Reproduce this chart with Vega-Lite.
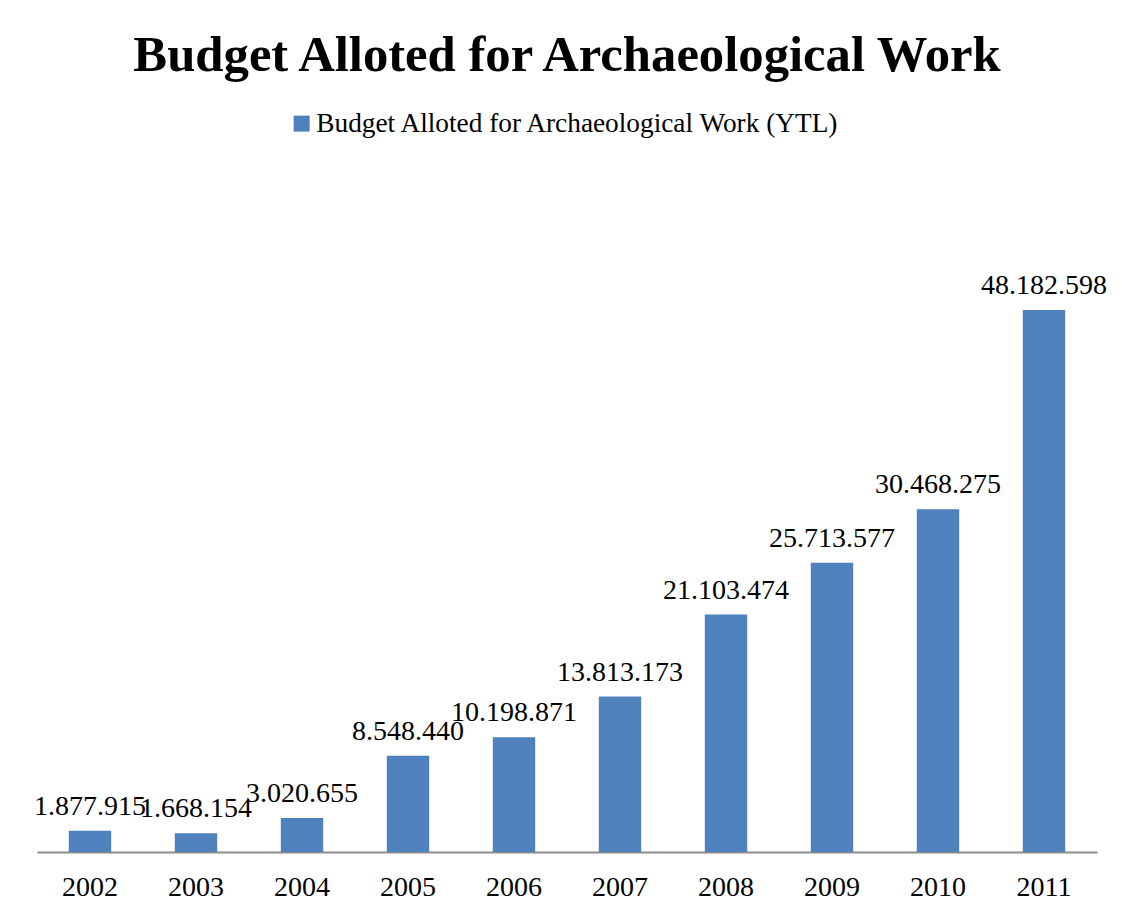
{
  "$schema": "https://vega.github.io/schema/vega-lite/v6.json",
  "width": 1060,
  "height": 675,
  "autosize": "none",
  "padding": {"left": 37, "top": 177, "right": 25, "bottom": 63},
  "background": "white",
  "config": {
    "view": {"stroke": null},
    "locale": {"number": {"decimal": ",", "thousands": ".", "grouping": [3], "currency": ["", ""]}},
    "font": "Liberation Serif"
  },
  "title": {
    "text": "Budget Alloted for Archaeological Work",
    "font": "Liberation Serif",
    "fontSize": 50.7,
    "fontWeight": "bold",
    "color": "black",
    "anchor": "middle",
    "offset": 28
  },
  "data": {
    "values": [
      {"year": "2002", "budget": 1877915, "series": "Budget Alloted for Archaeological Work (YTL)"},
      {"year": "2003", "budget": 1668154, "series": "Budget Alloted for Archaeological Work (YTL)"},
      {"year": "2004", "budget": 3020655, "series": "Budget Alloted for Archaeological Work (YTL)"},
      {"year": "2005", "budget": 8548440, "series": "Budget Alloted for Archaeological Work (YTL)"},
      {"year": "2006", "budget": 10198871, "series": "Budget Alloted for Archaeological Work (YTL)"},
      {"year": "2007", "budget": 13813173, "series": "Budget Alloted for Archaeological Work (YTL)"},
      {"year": "2008", "budget": 21103474, "series": "Budget Alloted for Archaeological Work (YTL)"},
      {"year": "2009", "budget": 25713577, "series": "Budget Alloted for Archaeological Work (YTL)"},
      {"year": "2010", "budget": 30468275, "series": "Budget Alloted for Archaeological Work (YTL)"},
      {"year": "2011", "budget": 48182598, "series": "Budget Alloted for Archaeological Work (YTL)"}
    ]
  },
  "encoding": {
    "x": {
      "field": "year",
      "type": "ordinal",
      "scale": {"paddingInner": 0.6, "paddingOuter": 0.3},
      "axis": {
        "title": null,
        "labelAngle": 0,
        "labelFont": "Liberation Serif",
        "labelFontSize": 28,
        "labelColor": "black",
        "labelPadding": 21,
        "ticks": false,
        "domainColor": "#8c8c8c",
        "domainWidth": 2,
        "grid": false
      }
    },
    "y": {
      "field": "budget",
      "type": "quantitative",
      "scale": {"domain": [0, 60000000], "nice": false},
      "axis": null
    }
  },
  "layer": [
    {
      "mark": {"type": "bar", "color": "#4F81BD"},
      "encoding": {
        "color": {
          "field": "series",
          "type": "nominal",
          "scale": {"range": ["#4F81BD"]},
          "legend": {
            "title": null,
            "orient": "none",
            "legendX": 251,
            "legendY": -67,
            "direction": "horizontal",
            "symbolType": "square",
            "symbolSize": 256,
            "symbolStrokeWidth": 0,
            "symbolFillColor": "#4F81BD",
            "labelFont": "Liberation Serif",
            "labelFontSize": 27.3,
            "labelColor": "black",
            "labelLimit": 800,
            "labelOffset": 1,
            "symbolOffset": 0
          }
        }
      }
    },
    {
      "mark": {
        "type": "text",
        "baseline": "alphabetic",
        "dy": -16,
        "font": "Liberation Serif",
        "fontSize": 28,
        "color": "black"
      },
      "encoding": {
        "text": {"field": "budget", "type": "quantitative", "format": ",d"}
      }
    }
  ]
}
